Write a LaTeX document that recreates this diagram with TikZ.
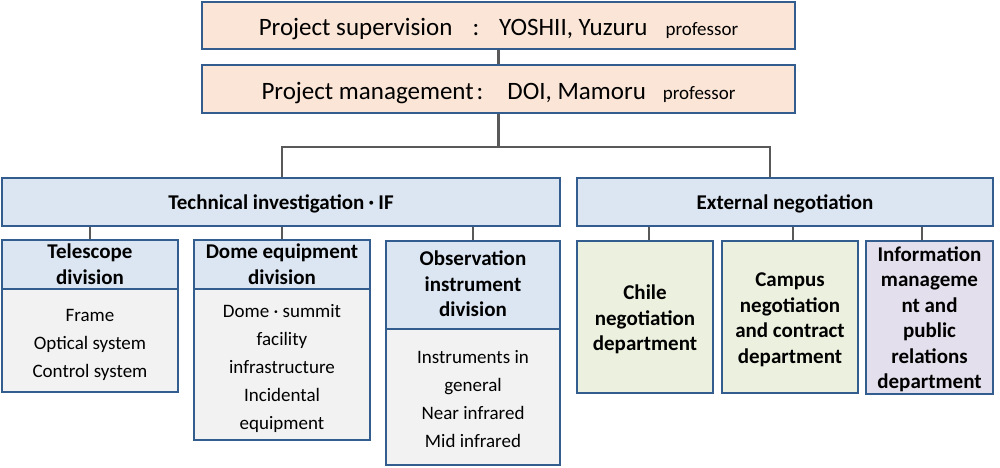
\documentclass[tikz,border=0pt]{standalone}
\usepackage{fontspec}
\setmainfont{Carlito}
\newfontfamily\cjkfont{Noto Sans CJK JP}
\usetikzlibrary{backgrounds}
\definecolor{bordc}{HTML}{335D8E}
\definecolor{peachc}{HTML}{FBE5D6}
\definecolor{hdrc}{HTML}{DCE6F2}
\definecolor{bodyc}{HTML}{F2F2F2}
\definecolor{greenc}{HTML}{EBF1DE}
\definecolor{lavc}{HTML}{E4DFEC}
\definecolor{connc}{HTML}{595959}
\newcommand\ml[2][3pt]{\raisebox{-#1}[\height][\depth]{\begin{tabular}{@{}c@{}}#2\end{tabular}}}
\newcommand\lo[2][3pt]{\raisebox{-#1}[\height][\depth]{#2}}
\tikzset{
 box/.style={draw=bordc, line width=2pt, inner sep=0pt},
 peachbox/.style={box, fill=peachc, font=\fontsize{25}{30}\selectfont},
 hdr/.style={box, fill=hdrc, font=\fontsize{21}{25.5}\selectfont\bfseries},
 bodybox/.style={box, fill=bodyc, font=\fontsize{19}{28}\selectfont},
 deptbox/.style={box, font=\fontsize{21}{25.5}\selectfont\bfseries},
 conn/.style={draw=connc, line width=2.5pt},
}
\begin{document}
\begin{tikzpicture}[x=1pt,y=-1pt]
\useasboundingbox (0,0) rectangle (1000,467);
% top boxes
\node[peachbox, minimum width=593pt, minimum height=47pt] (sup) at (498.5,25.5)
 {\lo[4pt]{Project supervision\hspace{20pt}:\hspace{20pt}YOSHII, Yuzuru\hspace{18pt}{\fontsize{19}{19}\selectfont professor}}};
\node[peachbox, minimum width=593pt, minimum height=48pt] (mgmt) at (498.5,89)
 {\lo[4pt]{Project management\hspace{3pt}:\hspace{24pt}DOI, Mamoru\hspace{17pt}{\fontsize{19}{19}\selectfont professor}}};
% groups
\node[hdr, minimum width=558pt, minimum height=48pt] (tech) at (281,202)
 {\lo[2pt]{Technical investigation{\cjkfont\fontsize{14}{14}\selectfont\raisebox{1pt}{・}}IF}};
\node[hdr, minimum width=416pt, minimum height=48pt] (ext) at (785,202)
 {\lo[2pt]{External negotiation}};
% technical divisions
\node[hdr, minimum width=176pt, minimum height=48pt] (telh) at (90,265) {\ml[1.5pt]{Telescope\\division}};
\node[bodybox, minimum width=176pt, minimum height=103pt] (telb) at (90,340.5) {\ml{Frame\\Optical system\\Control system}};
\node[hdr, minimum width=176pt, minimum height=48pt] (domeh) at (282,265) {\ml[1.5pt]{Dome equipment\\division}};
\node[bodybox, minimum width=176pt, minimum height=151pt] (domeb) at (282,364.5) {\ml{Dome · summit\\facility\\infrastructure\\Incidental\\equipment}};
\node[hdr, minimum width=174pt, minimum height=88pt] (obsh) at (473,285) {\ml[1pt]{Observation\\instrument\\division}};
\node[bodybox, minimum width=174pt, minimum height=136pt] (obsb) at (473,397) {\ml{Instruments in\\general\\Near infrared\\Mid infrared}};
% external departments
\node[deptbox, fill=greenc, minimum width=136pt, minimum height=152pt] (chile) at (645,317) {\ml{Chile\\negotiation\\department}};
\node[deptbox, fill=greenc, minimum width=136pt, minimum height=152pt] (campus) at (790,317) {\ml{Campus\\negotiation\\and contract\\department}};
\node[deptbox, fill=lavc, minimum width=127pt, minimum height=152pt] (info) at (929.5,317) {\ml{Information\\manageme\\nt and\\public\\relations\\department}};
% connectors
\coordinate (bl) at (282,147);
\coordinate (br) at (770,147);
\coordinate (c1) at (649,0);
\coordinate (c2) at (793,0);
\coordinate (c3) at (922,0);
\begin{scope}[on background layer]
\draw[conn] (sup.south) -- (mgmt.north);
\draw[conn] (mgmt.south) -- (mgmt.south |- bl);
\draw[conn] (tech.north -| bl) -- (bl) -- (br) -- (ext.north -| br);
\draw[conn] (tech.south -| telh.north) -- (telh.north);
\draw[conn] (tech.south -| domeh.north) -- (domeh.north);
\draw[conn] (tech.south -| obsh.north) -- (obsh.north);
\draw[conn] (ext.south -| c1) -- (chile.north -| c1);
\draw[conn] (ext.south -| c2) -- (campus.north -| c2);
\draw[conn] (ext.south -| c3) -- (info.north -| c3);
\end{scope}
\end{tikzpicture}
\end{document}
